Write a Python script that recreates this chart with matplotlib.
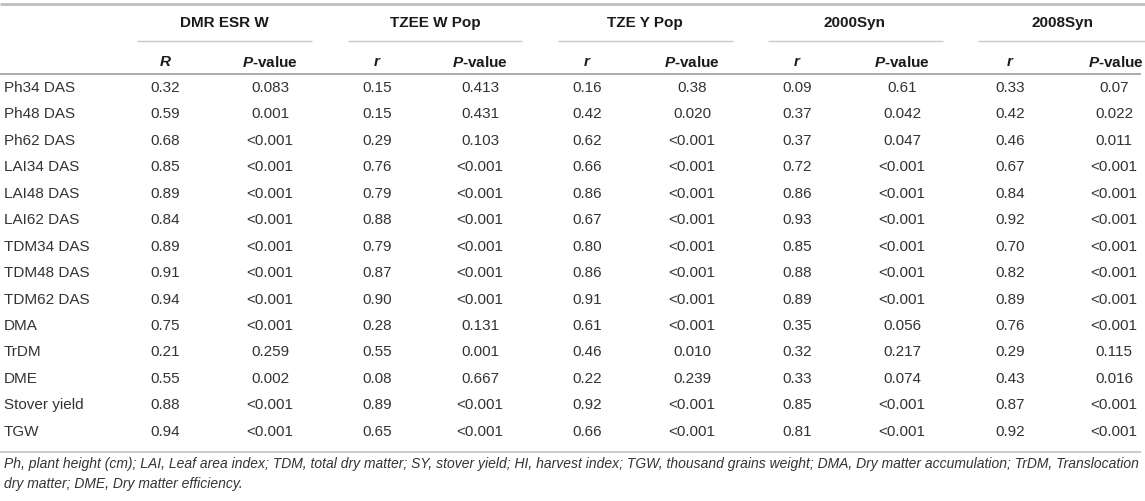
import matplotlib
matplotlib.use("Agg")
import matplotlib.pyplot as plt

# ---- table content ----
row_labels = ["Ph34 DAS", "Ph48 DAS", "Ph62 DAS", "LAI34 DAS", "LAI48 DAS", "LAI62 DAS",
              "TDM34 DAS", "TDM48 DAS", "TDM62 DAS", "DMA", "TrDM", "DME",
              "Stover yield", "TGW"]
groups = ["DMR ESR W", "TZEE W Pop", "TZE Y Pop", "2000Syn", "2008Syn"]
r_headers = ["R", "r", "r", "r", "r"]

dmr_r = ["0.32", "0.59", "0.68", "0.85", "0.89", "0.84", "0.89", "0.91", "0.94", "0.75", "0.21", "0.55", "0.88", "0.94"]
dmr_p = ["0.083", "0.001", "<0.001", "<0.001", "<0.001", "<0.001", "<0.001", "<0.001", "<0.001", "<0.001", "0.259", "0.002", "<0.001", "<0.001"]
tzee_r = ["0.15", "0.15", "0.29", "0.76", "0.79", "0.88", "0.79", "0.87", "0.90", "0.28", "0.55", "0.08", "0.89", "0.65"]
tzee_p = ["0.413", "0.431", "0.103", "<0.001", "<0.001", "<0.001", "<0.001", "<0.001", "<0.001", "0.131", "0.001", "0.667", "<0.001", "<0.001"]
tzey_r = ["0.16", "0.42", "0.62", "0.66", "0.86", "0.67", "0.80", "0.86", "0.91", "0.61", "0.46", "0.22", "0.92", "0.66"]
tzey_p = ["0.38", "0.020", "<0.001", "<0.001", "<0.001", "<0.001", "<0.001", "<0.001", "<0.001", "<0.001", "0.010", "0.239", "<0.001", "<0.001"]
syn2000_r = ["0.09", "0.37", "0.37", "0.72", "0.86", "0.93", "0.85", "0.88", "0.89", "0.35", "0.32", "0.33", "0.85", "0.81"]
syn2000_p = ["0.61", "0.042", "0.047", "<0.001", "<0.001", "<0.001", "<0.001", "<0.001", "<0.001", "0.056", "0.217", "0.074", "<0.001", "<0.001"]
syn2008_r = ["0.33", "0.42", "0.46", "0.67", "0.84", "0.92", "0.70", "0.82", "0.89", "0.76", "0.29", "0.43", "0.87", "0.92"]
syn2008_p = ["0.07", "0.022", "0.011", "<0.001", "<0.001", "<0.001", "<0.001", "<0.001", "<0.001", "<0.001", "0.115", "0.016", "<0.001", "<0.001"]

r_cols = [dmr_r, tzee_r, tzey_r, syn2000_r, syn2008_r]
p_cols = [dmr_p, tzee_p, tzey_p, syn2000_p, syn2008_p]

footnote = ("Ph, plant height (cm); LAI, Leaf area index; TDM, total dry matter; SY, stover yield; "
            "HI, harvest index; TGW, thousand grains weight; DMA, Dry matter accumulation; TrDM, Translocation\n"
            "dry matter; DME, Dry matter efficiency.")

# ---- styling ----
plt.rcParams["font.family"] = ["Liberation Sans", "DejaVu Sans"]
plt.rcParams["mathtext.fontset"] = "custom"
plt.rcParams["mathtext.it"] = "Liberation Sans:italic"
plt.rcParams["mathtext.bf"] = "Liberation Sans:bold"
plt.rcParams["mathtext.bfit"] = "Liberation Sans:italic:bold"
plt.rcParams["mathtext.rm"] = "Liberation Sans"

W, H = 1145, 501
fig = plt.figure(figsize=(W / 100, H / 100), dpi=100)
ax = fig.add_axes([0, 0, 1, 1])
ax.set_xlim(0, W)
ax.set_ylim(H, 0)
ax.axis("off")

txt = "#333333"
hdr = "#1a1a1a"
fs = 11

# column layout (pixels): start of each group's underline, offsets of r / P columns
group_x0 = [137, 348, 558, 768, 978]
group_w = [175, 174, 175, 175, 167]
group_cx = [224, 435, 645, 855, 1062]
r_x = [165, 377, 587, 797, 1010]
p_x = [270, 480, 692, 902, 1114]

y_group = 23
y_line = 41
y_sub = 62
y_rule = 74
y_row0 = 88
row_h = 26.45
y_bottom = 452

# rules
ax.plot([0, W], [4, 4], color="#bdbdbd", lw=2.0, solid_capstyle="butt")
ax.plot([0, W - 4], [y_rule, y_rule], color="#ababab", lw=1.4, solid_capstyle="butt")
ax.plot([0, W - 4], [y_bottom, y_bottom], color="#c4c4c4", lw=1.2, solid_capstyle="butt")

for g, name in enumerate(groups):
    x0 = group_x0[g]
    ax.plot([x0, x0 + group_w[g]], [y_line, y_line], color="#c8c8c8", lw=1.0,
            solid_capstyle="butt")
    ax.text(group_cx[g], y_group, name, ha="center", va="center",
            fontsize=fs, fontweight="bold", color=hdr)
    ax.text(r_x[g], y_sub, r"$\bfit{%s}$" % r_headers[g], ha="center", va="center",
            fontsize=fs, color=hdr)
    ax.text(p_x[g] + (2 if g == 4 else 0), y_sub, r"$\bfit{P}$-value", ha="center",
            va="center", fontsize=fs, fontweight="bold", color=hdr)
    for i in range(len(row_labels)):
        y = y_row0 + i * row_h
        ax.text(r_x[g], y, r_cols[g][i], ha="center", va="center", fontsize=fs, color=txt)
        ax.text(p_x[g], y, p_cols[g][i], ha="center", va="center", fontsize=fs, color=txt)

for i, lab in enumerate(row_labels):
    ax.text(4, y_row0 + i * row_h, lab, ha="left", va="center", fontsize=fs, color=txt)

ax.text(4, 457, footnote, ha="left", va="top", fontsize=10, style="italic",
        color=txt, linespacing=1.55)

fig.savefig("out.png", dpi=100)
